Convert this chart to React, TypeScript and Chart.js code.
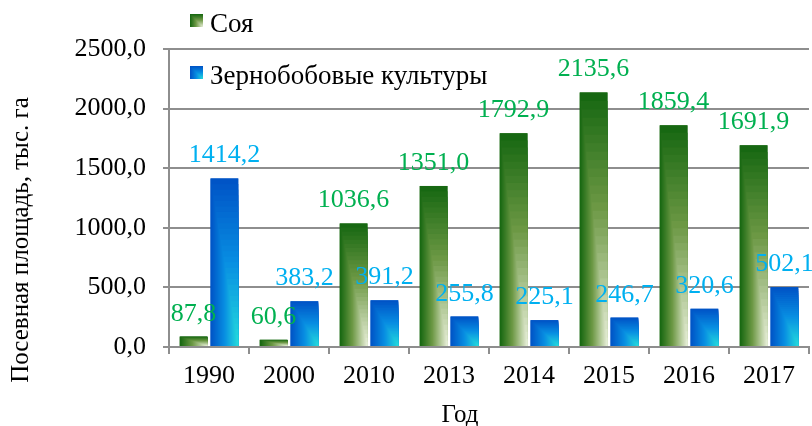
import React, { useEffect, useRef } from "react";
import { Chart, registerables } from "chart.js";

Chart.register(...registerables);

const categories = ["1990", "2000", "2010", "2013", "2014", "2015", "2016", "2017"];
const soyValues = [87.8, 60.6, 1036.6, 1351.0, 1792.9, 2135.6, 1859.4, 1691.9];
const legumeValues = [1414.2, 383.2, 391.2, 255.8, 225.1, 246.7, 320.6, 502.1];
const seriesNames = ["Соя", "Зернобобовые культуры"];
const yTickValues = [0, 500, 1000, 1500, 2000, 2500];
const yTitle = "Посевная площадь, тыс. га";
const xTitle = "Год";

const FONT = "'Liberation Serif', 'Times New Roman', serif";
const GRID = "#8e8e8e";
const labelColors = ["#00b050", "#00b0f0"];
const gradStops: [number, number[]][][] = [
  [
    [0, [23, 104, 18]],
    [0.45, [108, 152, 68]],
    [1, [230, 237, 214]],
  ],
  [
    [0, [0, 84, 198]],
    [0.5, [8, 142, 226]],
    [1, [36, 218, 220]],
  ],
];

function colorAt(stops: [number, number[]][], t: number) {
  for (let i = 0; i < stops.length - 1; i++) {
    const [t0, c0] = stops[i];
    const [t1, c1] = stops[i + 1];
    if (t <= t1) {
      const f = (t - t0) / (t1 - t0);
      const c = c0.map((v, k) => Math.round(v + (c1[k] - v) * f));
      return `rgb(${c[0]},${c[1]},${c[2]})`;
    }
  }
  const c = stops[stops.length - 1][1];
  return `rgb(${c[0]},${c[1]},${c[2]})`;
}

function drawCornerGradient(
  ctx: CanvasRenderingContext2D,
  left: number,
  top: number,
  w: number,
  h: number,
  stops: [number, number[]][]
) {
  const N = 30;
  for (let i = 0; i < N; i++) {
    const f = i / N;
    ctx.fillStyle = colorAt(stops, i / (N - 1));
    ctx.fillRect(left + f * w, top + f * h, w * (1 - f), h * (1 - f));
  }
}

const fmt = (v: number) => v.toFixed(1).replace(".", ",");

const customPlugin = {
  id: "custom",
  afterDatasetsDraw(chart: any) {
    const ctx: CanvasRenderingContext2D = chart.ctx;
    ctx.save();
    chart.data.datasets.forEach((ds: any, di: number) => {
      const meta = chart.getDatasetMeta(di);
      meta.data.forEach((el: any) => {
        const { x, y, base, width } = el.getProps(["x", "y", "base", "width"], true);
        const top = Math.min(y, base);
        const h = Math.abs(base - y);
        drawCornerGradient(ctx, x - width / 2, top, width, h, gradStops[di]);
      });
    });
    ctx.font = `26px ${FONT}`;
    ctx.textAlign = "center";
    ctx.textBaseline = "alphabetic";
    chart.data.datasets.forEach((ds: any, di: number) => {
      const meta = chart.getDatasetMeta(di);
      ctx.fillStyle = labelColors[di];
      meta.data.forEach((el: any, i: number) => {
        const { x, y } = el.getProps(["x", "y"], true);
        ctx.fillText(fmt(ds.data[i]), x, y - 16);
      });
    });
    ctx.restore();
  },
  afterDraw(chart: any) {
    const ctx: CanvasRenderingContext2D = chart.ctx;
    ctx.save();
    ctx.font = `27px ${FONT}`;
    ctx.textAlign = "left";
    ctx.textBaseline = "alphabetic";
    const legendY = [14, 66];
    seriesNames.forEach((name, i) => {
      drawCornerGradient(ctx, 190, legendY[i], 13, 13, gradStops[i]);
      ctx.fillStyle = "#000";
      ctx.fillText(name, 210, legendY[i] + 18);
    });
    ctx.font = `25px ${FONT}`;
    ctx.fillStyle = "#000";
    ctx.textAlign = "center";
    ctx.fillText(xTitle, 460, 422);
    ctx.translate(28, 240);
    ctx.rotate(-Math.PI / 2);
    ctx.fillText(yTitle, 0, 0);
    ctx.restore();
  },
};

export default function App() {
  const ref = useRef<HTMLCanvasElement | null>(null);
  useEffect(() => {
    let chart: Chart | null = null;
    let cancelled = false;
    const make = () => {
      if (cancelled || !ref.current) return;
      chart = new Chart(ref.current, {
        type: "bar",
        data: {
          labels: categories,
          datasets: [
            { label: seriesNames[0], data: soyValues, backgroundColor: "#1f6e16", borderWidth: 0 },
            { label: seriesNames[1], data: legumeValues, backgroundColor: "#0058c8", borderWidth: 0 },
          ],
        },
        options: {
          responsive: false,
          animation: false,
          events: [],
          layout: { padding: { top: 49, right: 3, left: 0, bottom: 0 } },
          datasets: { bar: { categoryPercentage: 0.77, barPercentage: 0.9 } },
          plugins: { legend: { display: false }, tooltip: { enabled: false } },
          scales: {
            x: {
              afterFit: (s: any) => {
                s.height = 79;
              },
              grid: {
                drawOnChartArea: false,
                drawTicks: true,
                tickLength: 7,
                color: GRID,
                lineWidth: 2,
                offset: true,
              },
              border: { color: GRID, width: 2 },
              ticks: { color: "#000", font: { family: FONT, size: 26 }, padding: 7, maxRotation: 0 },
            },
            y: {
              min: 0,
              max: 2500,
              afterFit: (s: any) => {
                s.width = 169;
              },
              afterBuildTicks: (s: any) => {
                s.ticks = yTickValues.map((v) => ({ value: v }));
              },
              grid: { color: GRID, lineWidth: 2, tickLength: 6, drawTicks: true },
              border: { color: GRID, width: 2 },
              ticks: {
                color: "#000",
                font: { family: FONT, size: 26 },
                padding: 17,
                callback: (v: any) => fmt(Number(v)),
              },
            },
          },
        },
        plugins: [customPlugin],
      });
    };
    const fonts: any = (document as any).fonts;
    if (fonts && fonts.load) {
      Promise.all([
        fonts.load(`25px "Liberation Serif"`, "Посевная 0123"),
        fonts.load(`27px "Liberation Serif"`, "Соя"),
      ])
        .catch(() => {})
        .then(make);
    } else {
      make();
    }
    return () => {
      cancelled = true;
      if (chart) chart.destroy();
    };
  }, []);
  return (
    <div style={{ position: "absolute", left: 0, top: 0, width: 812, height: 426, background: "#fff", fontFamily: FONT }}>
      <canvas ref={ref} width={812} height={426} style={{ display: "block" }} />
    </div>
  );
}
